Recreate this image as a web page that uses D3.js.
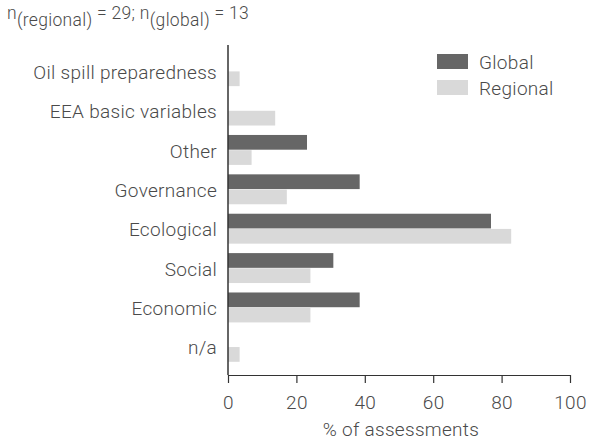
<!DOCTYPE html>
<html><head><meta charset="utf-8">
<script src="https://cdn.jsdelivr.net/npm/d3@7/dist/d3.min.js"></script>
<style>body{margin:0;background:#fff}svg{display:block}text{font-family:Roboto,"Noto Sans",sans-serif;font-weight:300;fill:#4a4a4a;letter-spacing:0.3px}</style>
</head><body><svg id="c" width="590" height="441"></svg>
<script>
const categories = ["Oil spill preparedness","EEA basic variables","Other","Governance","Ecological","Social","Economic","n/a"];
const globalValues = [0, 0, 23.1, 38.5, 76.9, 30.8, 38.5, 0];
const regionalValues = [3.4, 13.8, 6.9, 17.2, 82.8, 24.1, 24.1, 3.4];
const seriesNames = ["Global","Regional"];
const xTicks = [0,20,40,60,80,100];

const colors = {Global:"#666666", Regional:"#d9d9d9"};
const FS = "19px";
const svg = d3.select("#c");
const m = {l:228, r:570, t:45, b:375};
const x = d3.scaleLinear().domain([0,100]).range([m.l, m.r]);
const y = d3.scaleBand().domain(categories).range([m.t - 1, m.b - 1]).paddingInner(0.24).paddingOuter(0.31);
const y1 = d3.scaleBand().domain(seriesNames).range([0, y.bandwidth()]).paddingInner(0.03);

const data = categories.map((c,i)=>({c, Global:globalValues[i], Regional:regionalValues[i]}));
const g = svg.append("g");
seriesNames.forEach(s=>{
  g.selectAll("rect."+s).data(data).enter().append("rect")
   .attr("x", x(0)).attr("y", d=>y(d.c)+y1(s))
   .attr("width", d=>x(d[s])-x(0)).attr("height", y1.bandwidth())
   .attr("fill", colors[s]);
});

// y axis
const ya = svg.append("g").attr("transform",`translate(${m.l},0)`)
  .call(d3.axisLeft(y).tickSize(0).tickPadding(11));
ya.select(".domain").attr("stroke","#333").attr("stroke-width",1.5).attr("d",`M0,${m.t}V${m.b}`);
ya.selectAll("text").style("font-size",FS).attr("fill","#4a4a4a").attr("dy","0.4em");

// x axis
const xa = svg.append("g").attr("transform",`translate(0,${m.b})`)
  .call(d3.axisBottom(x).tickValues(xTicks).tickSize(8).tickSizeOuter(0).tickPadding(13));
xa.select(".domain").attr("stroke","#333").attr("stroke-width",1.2);
xa.selectAll("line").attr("stroke","#333").attr("stroke-width",1.2);
xa.selectAll("text").style("font-size",FS).attr("fill","#4a4a4a");

svg.append("text").attr("x",(m.l+m.r)/2+2).attr("y",436).attr("text-anchor","middle")
  .style("font-size",FS).text("% of assessments");

// legend
seriesNames.forEach((s,i)=>{
  svg.append("rect").attr("x",437).attr("y",54+i*26).attr("width",31).attr("height",15).attr("fill",colors[s]);
  svg.append("text").attr("x",479).attr("y",68.5+i*26).style("font-size",FS).text(s);
});

// title with subscripts
const t = svg.append("text").attr("x",7).attr("y",19).style("font-size","17.5px");
t.append("tspan").text("n");
t.append("tspan").attr("dy",7).text("(regional)");
t.append("tspan").attr("dy",-7).text(" = 29; n");
t.append("tspan").attr("dy",7).text("(global)");
t.append("tspan").attr("dy",-7).text(" = 13");
</script></body></html>
